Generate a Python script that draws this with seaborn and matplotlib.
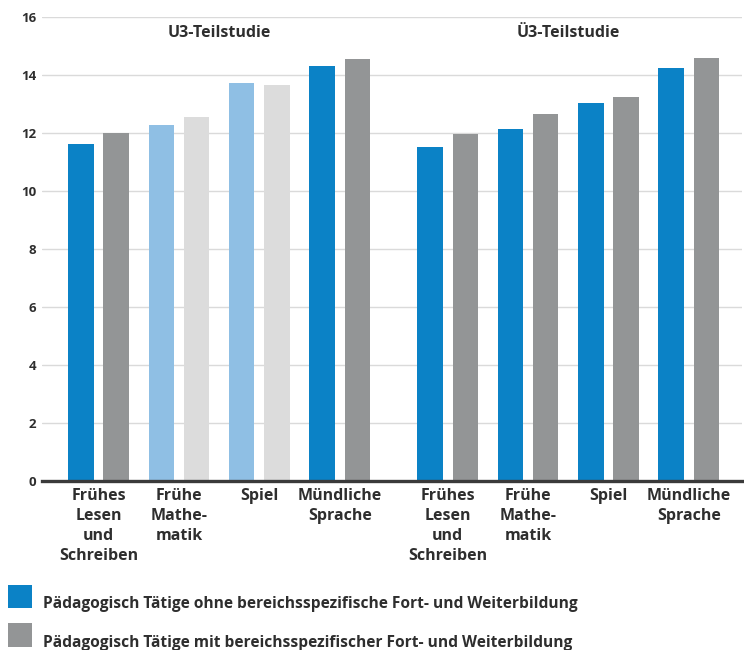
import matplotlib
matplotlib.use("Agg")
import matplotlib.pyplot as plt
from matplotlib.patches import Rectangle
import numpy as np
import pandas as pd
import seaborn as sns

# --- data -----------------------------------------------------------------
studies = ["U3-Teilstudie", "Ü3-Teilstudie"]
categories = [
    "Frühes\nLesen\nund\nSchreiben",
    "Frühe\nMathe-\nmatik",
    "Spiel",
    "Mündliche\nSprache",
]
series = [
    "Pädagogisch Tätige ohne bereichsspezifische Fort- und Weiterbildung",
    "Pädagogisch Tätige mit bereichsspezifischer Fort- und Weiterbildung",
]
u3_ohne = [11.62, 12.28, 13.72, 14.32]
u3_mit = [12.00, 12.56, 13.66, 14.55]
ue3_ohne = [11.53, 12.13, 13.04, 14.23]
ue3_mit = [11.95, 12.64, 13.25, 14.60]
# (study, category) pairs drawn in the lighter tones
lighter = [(0, 1), (0, 2)]
y_ticks = [0, 2, 4, 6, 8, 10, 12, 14, 16]

# --- style ----------------------------------------------------------------
BLUE, GRAY = "#0b82c6", "#939596"
LIGHT_BLUE, LIGHT_GRAY = "#8fbfe4", "#dcdcdc"
TEXT = "#2e2e2e"
STUDY_OFFSET = 4.34  # distance between the first bars of both studies
W, H = 744, 650

sns.set_style("white")
plt.rcParams["font.family"] = ["Open Sans", "DejaVu Sans"]
plt.rcParams["font.weight"] = "bold"

values = {0: (u3_ohne, u3_mit), 1: (ue3_ohne, ue3_mit)}
rows = []
for s_idx in range(len(studies)):
    for c_idx, cat in enumerate(categories):
        pos = round(s_idx * STUDY_OFFSET + c_idx, 3)
        for k, ser in enumerate(series):
            rows.append({"study": s_idx, "cat": c_idx, "pos": pos,
                         "series": ser, "value": values[s_idx][k][c_idx]})
df = pd.DataFrame(rows)

fig = plt.figure(figsize=(W / 100, H / 100), dpi=100)
ax = fig.add_axes([42 / W, 1 - 481 / H, 700 / W, 464 / H])

sns.barplot(data=df, x="pos", y="value", hue="series", hue_order=series,
            palette=[BLUE, GRAY], native_scale=True, width=0.88, gap=0.28,
            saturation=1, legend=False, ax=ax, zorder=3)

# lighter tones for the highlighted categories
light_pos = {round(s * STUDY_OFFSET + c, 3) for s, c in lighter}
light_cols = [LIGHT_BLUE, LIGHT_GRAY]
for k, cont in enumerate(ax.containers):
    for bar in cont:
        bar.set_edgecolor("none")
        centre = bar.get_x() + bar.get_width() / 2
        if any(abs(p - centre) < 0.5 for p in light_pos):
            bar.set_facecolor(light_cols[k])

positions = sorted(df["pos"].unique())
ax.set_xticks(positions)
ax.set_xticklabels(categories * len(studies), fontsize=11.5, color=TEXT,
                   fontweight="bold", linespacing=1.33)
ax.tick_params(axis="x", length=0, pad=5)
ax.set_xlim(-0.703, 8.0)

ax.set_ylim(0, 16)
ax.set_yticks(y_ticks)
ax.set_yticklabels([str(t) for t in y_ticks], fontsize=9.5, color=TEXT,
                   fontweight="bold")
ax.tick_params(axis="y", length=0, pad=4)
ax.grid(axis="y", color="#dadada", linewidth=1, zorder=0)
ax.set_axisbelow(True)

for side in ["top", "right", "left"]:
    ax.spines[side].set_visible(False)
ax.spines["bottom"].set_color("#3a3a3a")
ax.spines["bottom"].set_linewidth(2.4)
ax.spines["bottom"].set_zorder(4)
ax.set_xlabel("")
ax.set_ylabel("")

for s_idx, name in enumerate(studies):
    centre = s_idx * STUDY_OFFSET + (len(categories) - 1) / 2
    ax.text(centre, 15.45, name, ha="center", va="center", fontsize=11.5,
            fontweight="bold", color=TEXT)

# legend: colour swatch and label per series
swatches = [(BLUE, 585, 608), (GRAY, 623, 647)]
for (col, top, bottom), label in zip(swatches, series):
    fig.add_artist(Rectangle((8 / W, 1 - bottom / H), 24 / W,
                             (bottom - top) / H, transform=fig.transFigure,
                             facecolor=col, edgecolor="none"))
    fig.text(43 / W, 1 - bottom / H, label, ha="left", va="baseline",
             fontsize=11.2, fontweight="bold", color=TEXT)

fig.savefig("out.png", dpi=100, facecolor="white")
